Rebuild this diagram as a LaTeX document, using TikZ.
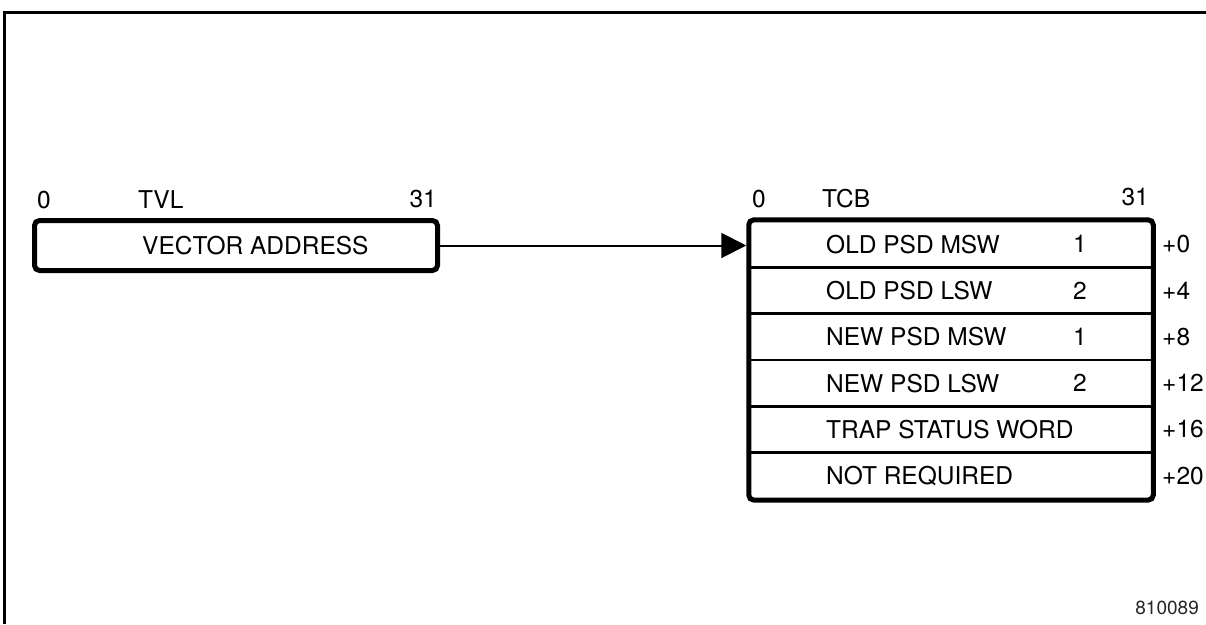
\documentclass[tikz,border=0pt]{standalone}
\usepackage{fontspec}
\setmainfont{TeX Gyre Heros}
\usetikzlibrary{arrows.meta,fit}
\begin{document}
\begin{tikzpicture}[x=1pt,y=-1pt,
  lbl/.style={font=\fontsize{24.5}{28}\selectfont, inner sep=0pt},
  small/.style={font=\fontsize{19}{22}\selectfont, inner sep=0pt, text=black!85},
  bigbox/.style={draw, line width=5pt, rounded corners=5pt, inner sep=0pt},
  rowbox/.style={draw, line width=2.5pt, minimum width=402pt, minimum height=46.3pt, inner sep=0pt},
  frame/.style={line width=3pt},
  conn/.style={line width=2pt, -{Triangle[length=25pt,width=25pt]}}
]
\useasboundingbox (0,0) rectangle (1206,624);
% frame
\draw[frame] (1206,12) -- (4,12) -- (4,624);

% TVL
\node[bigbox, minimum width=403pt, minimum height=50pt] (tvl) at (236,245.5) {};
\node[lbl, anchor=west] (tvltext) at (142,246) {VECTOR ADDRESS};
\node[lbl, anchor=west] (tvl0) at (37,200) {0};
\node[lbl, anchor=west] (tvlname) at (138,200) {TVL};
\node[lbl, anchor=east] (tvl31) at (437,199) {31};

% TCB rows
\node[rowbox] (r1) at (951,244.2) {};
\node[rowbox] (r2) at (951,290.5) {};
\node[rowbox] (r3) at (951,336.8) {};
\node[rowbox] (r4) at (951,383.1) {};
\node[rowbox] (r5) at (951,429.4) {};
\node[rowbox] (r6) at (951,475.7) {};
\node[bigbox, fit=(r1)(r6)] (tcb) {};

\node[lbl, anchor=west] (tcb0) at (752,199) {0};
\node[lbl, anchor=west] (tcbname) at (822,199) {TCB};
\node[lbl, anchor=east] (tcb31) at (1149,197) {31};

\node[lbl, anchor=west] (t1) at (826,244.2) {OLD PSD MSW};
\node[lbl, anchor=west] (t2) at (826,290.5) {OLD PSD LSW};
\node[lbl, anchor=west] (t3) at (826,336.8) {NEW PSD MSW};
\node[lbl, anchor=west] (t4) at (826,383.1) {NEW PSD LSW};
\node[lbl, anchor=west] (t5) at (826,429.4) {TRAP STATUS WORD};
\node[lbl, anchor=west] (t6) at (826,475.7) {NOT REQUIRED};

\node[lbl] (n1) at (1080,244.2) {1};
\node[lbl] (n2) at (1080,290.5) {2};
\node[lbl] (n3) at (1080,336.8) {1};
\node[lbl] (n4) at (1080,383.1) {2};

\node[lbl, anchor=west] (o1) at (1162,244.2) {+0};
\node[lbl, anchor=west] (o2) at (1162,290.5) {+4};
\node[lbl, anchor=west] (o3) at (1162,336.8) {+8};
\node[lbl, anchor=west] (o4) at (1162,383.1) {+12};
\node[lbl, anchor=west] (o5) at (1162,429.4) {+16};
\node[lbl, anchor=west] (o6) at (1162,475.7) {+20};

% arrow
\draw[conn] (tvl.east) -- (tvl.east -| tcb.west);

% figure number
\node[small, anchor=east] (fig) at (1199,608) {810089};
\end{tikzpicture}
\end{document}
